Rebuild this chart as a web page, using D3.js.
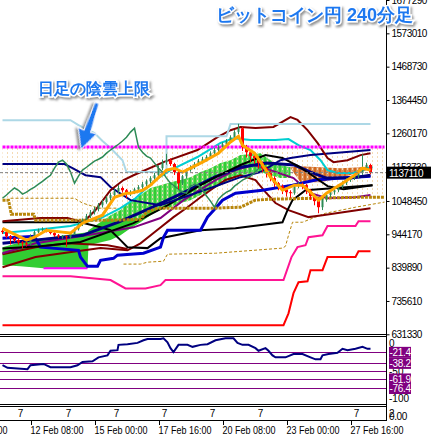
<!DOCTYPE html>
<html>
<head>
<meta charset="utf-8">
<script src="https://d3js.org/d3.v7.min.js"></script>
<style>
  body { margin: 0; background: #fff; }
  svg { display: block; }
  text { font-family: "Liberation Sans", Arial, sans-serif; }
</style>
</head>
<body>
<svg id="chart" width="431" height="438"></svg>
<script>
// ---- data (prices in thousand yen, x in 4h bar index) ----
var firstOpen = 955;
var closes = [951,938,932,926,919,916,913,938,951,957,
  960,954,948,941,938,938,935,945,960,976,
  988,1001,1013,1023,1035,1045,1057,1067,1079,1089,
  1082,1070,1076,1085,1092,1101,1110,1120,1129,1151,
  1170,1176,1164,1139,1104,1126,1145,1154,1164,1173,
  1179,1186,1198,1208,1217,1226,1236,1248,1264,1276,
  1217,1201,1189,1183,1167,1151,1139,1120,1104,1095,
  1085,1076,1073,1095,1101,1098,1082,1064,1048,1029,
  1054,1067,1076,1082,1095,1104,1114,1120,1126,1136,
  1151,1161,1137];
var highs = [962,955,942,936,930,923,920,944,956,962,
  966,963,957,951,945,942,941,950,965,982,
  994,1008,1020,1030,1042,1052,1064,1075,1088,1098,
  1094,1086,1082,1090,1098,1108,1116,1126,1136,1160,
  1178,1196,1182,1168,1142,1130,1150,1160,1170,1180,
  1186,1192,1204,1214,1223,1232,1242,1254,1270,1290,
  1280,1224,1206,1194,1188,1172,1156,1143,1126,1108,
  1100,1090,1082,1102,1108,1106,1102,1086,1068,1052,
  1060,1072,1082,1088,1100,1110,1120,1126,1132,1142,
  1195,1168,1165];
var lows = [945,932,912,920,912,900,906,910,934,948,
  952,950,944,936,932,930,905,930,942,956,
  970,982,995,1006,1016,1028,1040,1050,1060,1072,
  1075,1058,1064,1070,1080,1086,1095,1104,1114,1124,
  1145,1162,1158,1130,1085,1098,1118,1140,1148,1158,
  1166,1172,1180,1190,1200,1210,1220,1230,1240,1258,
  1205,1185,1170,1165,1150,1138,1122,1110,1092,1082,
  1070,1062,1058,1068,1088,1086,1070,1052,1035,1010,
  1020,1046,1060,1068,1076,1088,1098,1108,1114,1120,
  1130,1146,1132];
var lastPrice = 1137.11;
var chikouShift = 26;

var orangeMA = [[0,963],[6,926],[8,935],[11,957],[15,951],[17,948],[20,979],[25,1004],[28,1060],[31,1073],[32,1073],[35,1082],[37,1098],[41,1145],[43,1151],[45,1139],[47,1151],[50,1170],[54,1198],[57,1233],[59,1251],[60,1223],[63,1198],[65,1161],[67,1123],[70,1082],[73,1098],[75,1098],[77,1076],[79,1051],[81,1073],[85,1104],[88,1129],[90,1151],[92,1145]];
var lightBlue = [[0,1301],[17,1301],[19,1286],[23,1261],[25,1236],[27,1214],[30,1176],[31,1139],[41,1139],[41,1251],[56,1251],[57,1289],[92,1289]];
var dailyCloudTop = [[0,1217],[95.5,1217]];
var goldThick = [[0,1051],[1.5,1051],[2.2,1007],[7.8,1007],[8.3,988],[27,988],[34.5,991],[36,1013],[38.8,1026],[53,1026],[59.5,1029],[63.2,1051],[67,1054],[89,1060],[95.5,1060]];
var goldThinA = [[2,1057],[18,1057],[20,1042],[24,1026],[29,1026]];
var goldThinB = [[30.25,851],[34.5,851],[36.25,857],[40.25,860],[41.25,882],[53.25,885],[70,901],[70.75,907],[71.5,941],[72.5,982],[75,982],[78.25,998],[80.75,1010],[88.25,1029],[95.5,1045]];
var navyThin = [[0,1164],[15.5,1164],[17.5,1151],[20.75,1129],[24.5,1123],[27,1092],[32,1051],[39.5,1035],[52.75,1092],[59.5,1123],[64.5,1139],[69.5,1176],[72,1183],[77,1192],[92,1208]];
var navyThick = [[0,916],[8,926],[20,941],[29,982],[37,1026],[45,1073],[53,1123],[59.5,1154],[66,1167],[73,1161],[77,1139],[81,1120],[87,1120],[92,1129]];
var blueStep = [[0,932],[8,938],[9.5,904],[19,894],[19.5,873],[21.25,844],[23.75,844],[24.5,863],[27.75,869],[28.75,879],[35.25,885],[39.5,904],[40.25,935],[41.25,957],[49.5,957],[51.25,998],[53.25,1026],[55,1051],[58.25,1073],[65,1082],[72.5,1098],[78.25,1114],[84.5,1120],[92,1126]];
var blackThick = [[0,900],[9.5,907],[19.5,920],[32.75,979],[41.25,1035],[49.5,1098],[53.25,1123],[59.5,1161],[65.75,1192],[70,1183],[74,1157],[77,1132],[81.25,1095],[85.25,1085],[92.5,1098]];
var blackStep = [[0,982],[19.5,982],[24.5,966],[27,957],[29.5,926],[31.25,904],[36.25,901],[39.5,932],[49.5,957],[58.25,963],[70,982],[71.25,1020],[72.5,1051],[75.75,1082],[92.5,1098]];
var cyanLine = [[0,948],[7.5,957],[17,970],[24.5,994],[29.5,1026],[33.25,1057],[38.25,1114],[42,1145],[48.75,1186],[54.5,1230],[57.75,1245],[62,1239],[68.25,1239],[71.5,1242],[74,1223],[77,1208],[79.5,1176],[81.25,1145],[83.75,1136],[87.75,1136],[91.25,1151],[92.5,1154]];
var maroonUp = [[0,985],[9.5,995],[16.25,995],[20.25,982],[23.25,1020],[27,1082],[30.25,1114],[32.75,1129],[40.25,1170],[48.75,1208],[53.75,1248],[57,1270],[59.5,1280],[63.25,1277],[67.75,1280],[72,1311],[73.75,1302],[76.25,1270],[78.75,1230],[81.25,1183],[82.75,1170],[86.25,1176],[89.5,1192],[92,1198]];
var maroonLow = [[0,841],[8.25,873],[16.75,888],[24.5,901],[31.25,894],[34.5,916],[37.75,948],[42.75,998],[46.25,1029],[49.5,1060],[52.75,1089],[55.75,1114],[59.5,1129],[63.25,1114],[65.75,1076],[68.25,1042],[71.5,1020],[76.5,998],[80,1004],[89,1020],[92,1026]];
var maroonMid = [[0,882],[8.25,904],[16.25,916],[26.25,910],[31.25,898]];
var purpleLine = [[0,885],[8.25,916],[16.25,932],[24.5,948],[32.75,966],[39.5,995],[45.25,1051],[53.25,1114],[58.25,1145],[62.75,1161],[67,1145],[72.75,1120],[77,1073],[81.25,1057],[88.25,1060],[92,1067]];
var redLine = [[0,660],[70.25,660],[71.5,697],[72.75,760],[74,794],[76.25,797],[77,832],[80,832],[81.25,873],[88.25,873],[89,891],[92,891]];
var pinkLine = [[0,813],[17,813],[27,801],[30.75,775],[35.75,775],[39.5,785],[40.75,801],[70.25,801],[72.25,873],[73.75,904],[75.75,910],[76.5,935],[80,941],[81.25,970],[88.25,970],[89,985],[92,985]];
// cloud: [bar, upper, lower]
var greenCloud = [[0,904,847],[4.5,919,844],[10.25,932,838],[21.25,951,838],[21.5,957,910],[27,1004,926],[29.5,1020,941],[32,1051,963],[34.5,1067,982],[37,1089,1004],[39.5,1098,1020],[42,1107,1029],[44.5,1114,1042],[47,1123,1051],[49.5,1139,1067],[52,1151,1082],[54.5,1167,1098],[57,1176,1114],[59.5,1192,1129],[64.5,1198,1139],[67,1176,1129],[69.5,1161,1120],[72,1154,1120]];
var brownCloud = [[72,1154,1151],[74.5,1157,1107],[79.5,1154,1107],[84.5,1151,1120],[89.5,1154,1139],[92.5,1157,1151]];
var cloudEdge = [[10.25,838],[21.25,838]];

var wprLine = [[0,-41],[1.25,-45],[6.25,-47],[7,-41],[10.25,-39],[12,-44],[17,-44],[18.75,-41],[20,-36],[22.5,-35],[24,-29],[26.25,-26],[27,-19],[28.75,-18],[29,-10],[31.25,-9],[33.75,-7],[35.25,-3],[36.25,-1],[39.5,-1],[40.25,0],[41.25,-6],[42,-15],[42.75,-21],[44,-10],[46.25,-10],[47.5,-13],[49.5,-10],[51.25,-9],[53.25,-3],[55.75,0],[57.75,0],[58.75,-7],[60,-10],[61.5,-10],[63.25,-15],[64,-19],[65.75,-15],[66.5,-19],[67.5,-26],[68.25,-29],[70.75,-29],[72.75,-24],[75,-24],[77,-29],[78.25,-32],[79.5,-32],[80,-26],[81.5,-24],[83.75,-22],[85,-16],[86.25,-18],[88.25,-16],[90,-13],[91.25,-16],[92,-16]];
var wprLevels = [-21.4, -38.2, -50, -61.9, -76.4];
var wprLevelLabels = ["-21.4", "-38.2", "-61.9", "-76.4"];

var priceTicks = [1677290,1573010,1468730,1364450,1260170,1153730,1048450,944170,839890,735610,631330];
var dateTickBars = [-12, 7, 23, 39, 55, 71, 87];
var dateLabels = ["10 Feb 08:00","12 Feb 08:00","15 Feb 00:00","17 Feb 16:00","20 Feb 08:00","23 Feb 00:00","27 Feb 16:00"];
var sevenBars = [4.5, 16.5, 28.5, 40.5, 52.5, 64.5, 88.5];

// ---- layout ----
var axisX = 386.5;
var x = d3.scaleLinear().domain([0, 95]).range([2.5, 382.5]);
var y = d3.scaleLinear().domain([631.33, 1677.29]).range([334.3, 0]);
var yw = d3.scaleLinear().domain([-100, 0]).range([404, 338.3]);

var svg = d3.select("#chart");
var defs = svg.append("defs");
var pat = defs.append("pattern").attr("id", "hatch")
  .attr("patternUnits", "userSpaceOnUse").attr("width", 5).attr("height", 4);
pat.append("rect").attr("x", 2).attr("y", 0).attr("width", 1).attr("height", 2).attr("fill", "#f2cf9c");
pat.append("rect").attr("x", 1).attr("y", 0).attr("width", 3).attr("height", 4).attr("fill", "#fff").attr("opacity", 0.25);
var sh = defs.append("filter").attr("id", "shadow").attr("x", "-10%").attr("y", "-30%").attr("width", "130%").attr("height", "170%");
sh.append("feDropShadow").attr("dx", 1.5).attr("dy", 2).attr("stdDeviation", 1).attr("flood-color", "#777").attr("flood-opacity", 0.8);
defs.append("clipPath").attr("id", "mainClip").append("rect").attr("x", 0).attr("y", 0).attr("width", axisX).attr("height", 334);
defs.append("clipPath").attr("id", "wprClip").append("rect").attr("x", 0).attr("y", 337).attr("width", axisX).attr("height", 67);

var main = svg.append("g").attr("clip-path", "url(#mainClip)");
var line = d3.line().x(function(d) { return x(d[0]); }).y(function(d) { return y(d[1]); });
var cloudArea = d3.area().x(function(d) { return x(d[0]); })
  .y0(function(d) { return y(d[2]); }).y1(function(d) { return y(d[1]); });

// 4h cloud
main.append("path").attr("d", cloudArea(greenCloud)).attr("fill", "#32cd32");
main.append("path").attr("d", cloudArea(brownCloud)).attr("fill", "#d2691e");
main.append("path").attr("d", line(cloudEdge)).attr("stroke", "#ff00ff").attr("stroke-width", 2).attr("fill", "none");

// daily cloud hatch
var hatchArea = d3.area().x(function(d) { return x(d[0]); })
  .y0(function(d) { return y(d[1]); }).y1(y(dailyCloudTop[0][1]));
main.append("path").attr("d", hatchArea(goldThick)).attr("fill", "url(#hatch)");

function drawLine(data, color, width, dash) {
  main.append("path").attr("d", line(data)).attr("fill", "none")
    .attr("stroke", color).attr("stroke-width", width)
    .attr("stroke-dasharray", dash || null);
}
drawLine(redLine, "#ff0000", 2);
drawLine(pinkLine, "#ff1493", 2);
drawLine(goldThinA, "#b8860b", 1, "3,2");
drawLine(goldThinB, "#b8860b", 1, "3,2");
drawLine(maroonMid, "#800000", 2);
drawLine(maroonLow, "#800000", 2);
drawLine(blackStep, "#000000", 2);
drawLine(purpleLine, "#800080", 2);
drawLine(blueStep, "#0000cd", 3);
drawLine(navyThick, "#000080", 3);
drawLine(blackThick, "#000000", 2);
drawLine(cyanLine, "#00ced1", 2);
drawLine(navyThin, "#000080", 2);
drawLine(maroonUp, "#800000", 2);
drawLine(lightBlue, "#add8e6", 2);
drawLine(goldThick, "#b8860b", 3, "3,1");
drawLine(dailyCloudTop, "#ff00ff", 3, "3,1");

// chikou span
var chikou = closes.slice(chikouShift).map(function(c, i) { return [i, c]; });
drawLine(chikou, "#2e8b57", 1.5);

// candles
var candles = closes.map(function(c, i) {
  return { i: i, o: i ? closes[i - 1] : firstOpen, h: highs[i], l: lows[i], c: c };
});
main.selectAll(".wick").data(candles).join("line")
  .attr("x1", function(d) { return x(d.i); }).attr("x2", function(d) { return x(d.i); })
  .attr("y1", function(d) { return y(d.h); }).attr("y2", function(d) { return y(d.l); })
  .attr("stroke", function(d) { return d.c >= d.o ? "#2e8b57" : "#ff0000"; }).attr("stroke-width", 1);
main.selectAll(".body").data(candles).join("rect")
  .attr("x", function(d) { return x(d.i) - (d.c >= d.o ? 1 : 1.5); })
  .attr("width", function(d) { return d.c >= d.o ? 2 : 3; })
  .attr("y", function(d) { return y(Math.max(d.o, d.c)); })
  .attr("height", function(d) { return Math.max(1, Math.abs(y(d.o) - y(d.c))); })
  .attr("fill", function(d) { return d.c >= d.o ? "#2e8b57" : "#ff0000"; });

drawLine(orangeMA, "#ffa500", 3);

// current price line
main.append("line").attr("x1", 0).attr("x2", axisX).attr("y1", y(lastPrice)).attr("y2", y(lastPrice))
  .attr("stroke", "#808080").attr("stroke-dasharray", "3,2");

// ---- price axis ----
var yYen = d3.scaleLinear().domain([631330, 1677290]).range([334.3, 0]);
var ax = svg.append("g").attr("transform", "translate(" + axisX + ",0)")
  .call(d3.axisRight(yYen).tickValues(priceTicks).tickSize(3).tickSizeOuter(0).tickPadding(2).tickFormat(d3.format("d")));
ax.select(".domain").remove();
ax.selectAll("text").attr("font-size", "10px").attr("font-family", "Liberation Sans").attr("letter-spacing", "-0.5px").attr("fill", "#000");
ax.selectAll("line").attr("stroke", "#000");

svg.append("rect").attr("x", 387).attr("y", y(lastPrice) - 6).attr("width", 44).attr("height", 12).attr("fill", "#000");
svg.append("text").attr("x", 389).attr("y", y(lastPrice) + 4).attr("font-size", "10px")
  .attr("letter-spacing", "-0.5px").attr("fill", "#fff").text(d3.format("d")(lastPrice * 1000));

// ---- WPR panel ----
var wpr = svg.append("g").attr("clip-path", "url(#wprClip)");
wpr.selectAll(".lvl").data(wprLevels).join("line")
  .attr("x1", 0).attr("x2", axisX).attr("y1", function(d) { return Math.round(yw(d)) + 0.5; })
  .attr("y2", function(d) { return Math.round(yw(d)) + 0.5; })
  .attr("stroke", "#800080").attr("stroke-width", 1);
wpr.append("path").attr("d", d3.line().x(function(d) { return x(d[0]); }).y(function(d) { return yw(d[1]); })(wprLine))
  .attr("fill", "none").attr("stroke", "#000080").attr("stroke-width", 2);

svg.append("text").attr("x", 389).attr("y", 347).attr("font-size", "10px").text("0");
svg.append("text").attr("x", 389).attr("y", yw(-50) + 4).attr("font-size", "10px").text("-50");
svg.append("text").attr("x", 389).attr("y", 402).attr("font-size", "10px").text("-100");
var lvlLab = svg.selectAll(".lvlLab").data(wprLevelLabels).join("g")
  .attr("transform", function(d) { return "translate(389," + yw(+d) + ")"; });
lvlLab.append("rect").attr("x", 0).attr("y", -5.5).attr("width", 22).attr("height", 11).attr("fill", "#800080");
lvlLab.append("text").attr("x", 0.5).attr("y", 4).attr("font-size", "10px").attr("letter-spacing", "-0.3px").attr("fill", "#fff").text(function(d) { return d; });

// ---- frames ----
[334.5, 336.5, 404.5, 406.5, 420.5].forEach(function(v) {
  svg.append("line").attr("x1", 0).attr("x2", axisX).attr("y1", v).attr("y2", v).attr("stroke", "#000");
});
svg.append("line").attr("x1", axisX).attr("x2", axisX).attr("y1", 0).attr("y2", 421).attr("stroke", "#000");

// third panel labels
svg.selectAll(".seven").data(sevenBars).join("text")
  .attr("x", function(d) { return x(d); }).attr("y", 417).attr("text-anchor", "middle")
  .attr("font-size", "10px").text("7");
svg.append("text").attr("x", 389).attr("y", 417).attr("font-size", "10px").text("2");
svg.append("text").attr("x", 389).attr("y", 420).attr("font-size", "10px").attr("letter-spacing", "-0.4px").text("0.00");

// ---- time axis ----
svg.selectAll(".dtick").data(dateTickBars).join("line")
  .attr("x1", function(d) { return Math.round(x(d)) + 0.5; }).attr("x2", function(d) { return Math.round(x(d)) + 0.5; })
  .attr("y1", 421).attr("y2", 425).attr("stroke", "#000");
svg.selectAll(".dlab").data(dateTickBars).join("text")
  .attr("x", function(d) { return x(d); }).attr("y", 434).attr("font-size", "10px")
  .attr("textLength", 53).attr("lengthAdjust", "spacingAndGlyphs")
  .text(function(d, i) { return dateLabels[i]; });

// ---- annotations ----
var jp = "'Noto Sans CJK JP', 'Noto Sans CJK SC', sans-serif";
svg.append("text").attr("x", 216).attr("y", 21).attr("font-family", jp).attr("font-weight", "bold")
  .attr("font-size", "18px").attr("fill", "#1e78f0").attr("stroke", "#fff").attr("stroke-width", 3)
  .attr("paint-order", "stroke").attr("filter", "url(#shadow)").text("ビットコイン円 240分足");
svg.append("text").attr("x", 38).attr("y", 94).attr("font-family", jp).attr("font-weight", "bold")
  .attr("font-size", "16px").attr("fill", "#1e78f0").attr("stroke", "#fff").attr("stroke-width", 3)
  .attr("paint-order", "stroke").attr("filter", "url(#shadow)").text("日足の陰雲上限");
svg.append("path").attr("d", "M0,-2 L30,-3.5 L29,-10 L49,0 L29,10 L30,3.5 L0,2 Z")
  .attr("transform", "translate(97,103) rotate(109)")
  .attr("fill", "#1e78f0").attr("stroke", "#fff").attr("stroke-width", 1).attr("filter", "url(#shadow)");
</script>
</body>
</html>
